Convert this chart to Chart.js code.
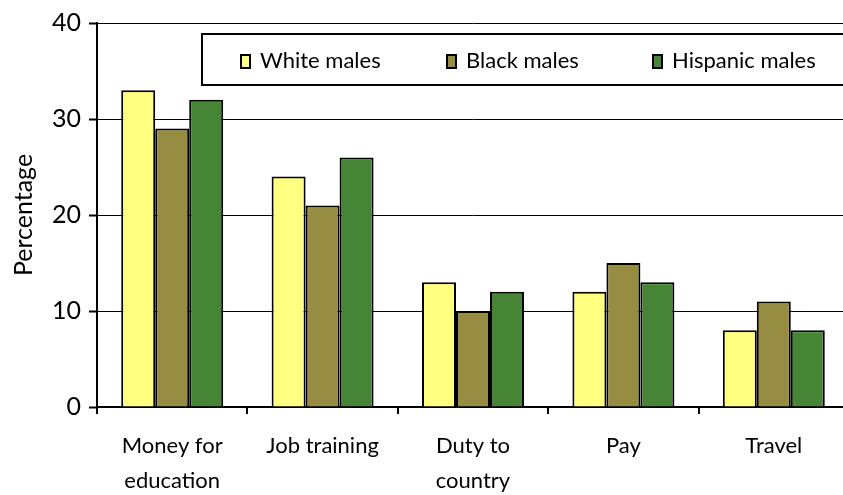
<!DOCTYPE html>
<html>
<head>
<meta charset="utf-8">
<script src="https://cdn.jsdelivr.net/npm/chart.js@4.4.1/dist/chart.umd.min.js"></script>
<style>
  html, body { margin: 0; padding: 0; background: #fff; overflow: hidden; }
  #wrap { width: 860px; height: 495px; }
</style>
</head>
<body>
<div id="wrap"><canvas id="chart" width="860" height="495"></canvas></div>
<script>
const categories = [['Money for', 'education'], 'Job training', ['Duty to', 'country'], 'Pay', 'Travel'];
const whiteMales = [33, 24, 13, 12, 8];
const blackMales = [29, 21, 10, 15, 11];
const hispanicMales = [32, 26, 12, 13, 8];
const yTicks = [0, 10, 20, 30, 40];

const FONT = 'Lato, "Open Sans", sans-serif';

// legend drawn inside the plot, in a bordered box
const boxLegend = {
    id: 'boxLegend',
    afterDatasetsDraw(chart) {
        const ctx = chart.ctx;
        ctx.save();
        ctx.fillStyle = '#fff';
        ctx.fillRect(202, 34, 660, 51);
        ctx.strokeStyle = '#000';
        ctx.lineWidth = 2;
        ctx.strokeRect(202, 34, 660, 51);
        const starts = [241, 447, 653];
        ctx.font = '22px ' + FONT;
        ctx.textBaseline = 'middle';
        chart.data.datasets.forEach((ds, i) => {
            const x = starts[i];
            ctx.fillStyle = ds.backgroundColor;
            ctx.fillRect(x, 55, 9, 13);
            ctx.lineWidth = 2;
            ctx.strokeRect(x, 55, 9, 13);
            ctx.fillStyle = '#000';
            ctx.fillText(ds.label, x + 19, 61);
        });
        ctx.restore();
    }
};

new Chart(document.getElementById('chart').getContext('2d'), {
    type: 'bar',
    data: {
        labels: categories,
        datasets: [
            { label: 'White males', data: whiteMales, backgroundColor: '#FFFF80' },
            { label: 'Black males', data: blackMales, backgroundColor: '#968C42' },
            { label: 'Hispanic males', data: hispanicMales, backgroundColor: '#468535' }
        ].map(d => Object.assign(d, {
            borderColor: '#000',
            borderWidth: 2,
            categoryPercentage: 0.678,
            barPercentage: 1
        }))
    },
    options: {
        responsive: false,
        animation: false,
        layout: { padding: { top: 20, right: 11, left: 0, bottom: 0 } },
        plugins: { legend: { display: false }, tooltip: { enabled: false } },
        scales: {
            x: {
                grid: { display: true, drawOnChartArea: false, color: '#000', lineWidth: 2, tickLength: 7, offset: true },
                border: { display: true, color: '#000', width: 2 },
                ticks: { color: '#000', font: { family: FONT, size: 22, lineHeight: 1.6 }, padding: 14, maxRotation: 0, autoSkip: false },
                afterFit(scale) { scale.height = 88; }
            },
            y: {
                min: 0,
                max: 40,
                afterBuildTicks(scale) { scale.ticks = yTicks.map(v => ({ value: v })); },
                grid: { color: '#000', lineWidth: 1, tickLength: 8, tickColor: '#000', tickWidth: 2 },
                border: { display: true, color: '#000', width: 2 },
                ticks: { color: '#000', font: { family: FONT, size: 25 }, padding: 8 },
                title: { display: true, text: 'Percentage', color: '#000', font: { family: FONT, size: 25 }, padding: { top: 9, bottom: 0 } },
                afterFit(scale) { scale.width = 97; }
            }
        }
    },
    plugins: [boxLegend]
});
</script>
</body>
</html>
